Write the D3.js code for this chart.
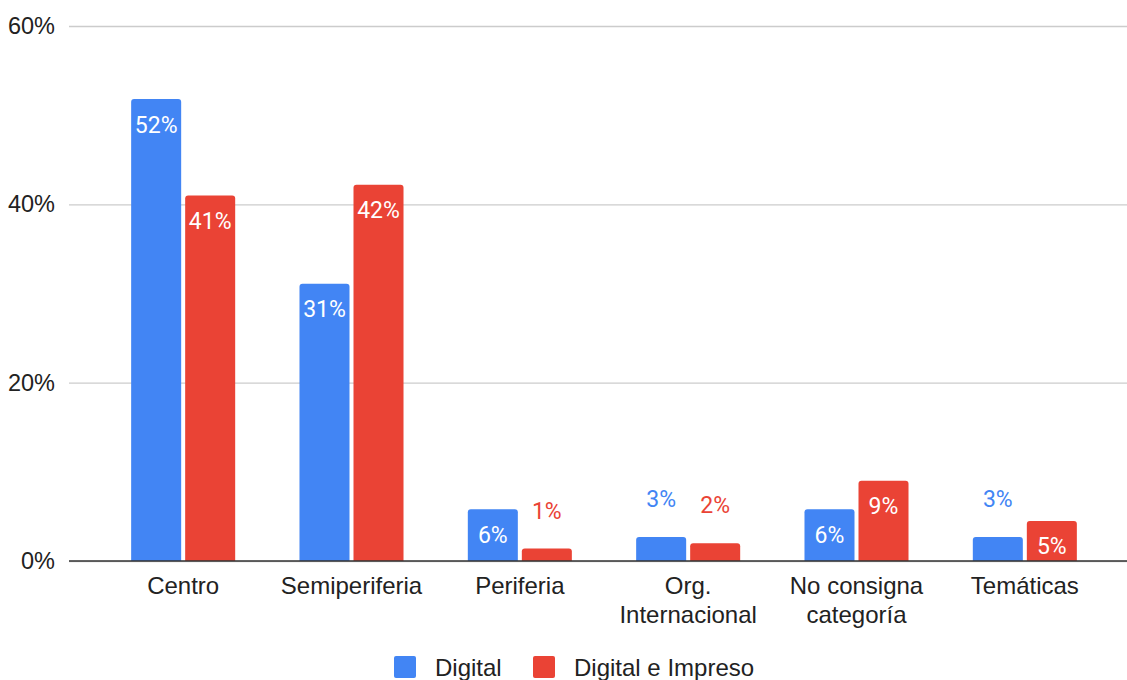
<!DOCTYPE html>
<html>
<head>
<meta charset="utf-8">
<script src="https://cdn.jsdelivr.net/npm/d3@7"></script>
<style>
  html, body { margin: 0; padding: 0; background: #fff; }
  svg { display: block; }
</style>
</head>
<body>
<svg id="chart" width="1127" height="680"></svg>
<script>
// Categories (multi-line labels split on \n)
const categories = ["Centro", "Semiperiferia", "Periferia", "Org.\nInternacional", "No consigna\ncategoría", "Temáticas"];
const seriesNames = ["Digital", "Digital e Impreso"];
const digital = [0.518, 0.311, 0.058, 0.027, 0.058, 0.027];
const digitalImpreso = [0.410, 0.422, 0.014, 0.020, 0.090, 0.045];
const yTicks = [0, 0.2, 0.4, 0.6];
const colors = ["#4285f4", "#ea4335"];

const svg = d3.select("#chart");
const W = 1127, H = 680;
const axisFont = "'Liberation Sans', Arial, sans-serif";
const labelFont = "Roboto, 'Liberation Sans', sans-serif";

const y = d3.scaleLinear().domain([0, 0.6]).range([561, 26]);
const x0 = d3.scaleBand().domain(categories).range([99, 1109]).paddingInner(0.382).paddingOuter(0.191);
const x1 = d3.scaleBand().domain(seriesNames).range([0, x0.bandwidth()]).paddingInner(0.074);

// Gridlines and y tick labels
const yAxis = d3.axisLeft(y).tickValues(yTicks).tickFormat(d3.format(".0%")).tickSize(0).tickPadding(14);
const gy = svg.append("g").attr("transform", "translate(69,0)").call(yAxis);
gy.select(".domain").remove();
gy.selectAll("text").attr("font-family", axisFont).attr("font-size", 23.5).attr("fill", "#222");
gy.selectAll(".tick").append("line")
  .attr("x1", 0).attr("x2", W - 69)
  .attr("stroke", "#cccccc").attr("stroke-width", 1.3);

// Bars with rounded tops
const rows = categories.map((c, i) => ({ cat: c, vals: [digital[i], digitalImpreso[i]] }));
function barPath(xp, w, top, bottom, r) {
  r = Math.min(r, (bottom - top) / 2, w / 2);
  return `M${xp},${bottom}V${top + r}Q${xp},${top} ${xp + r},${top}H${xp + w - r}Q${xp + w},${top} ${xp + w},${top + r}V${bottom}Z`;
}
const groups = svg.append("g").selectAll("g").data(rows).join("g")
  .attr("transform", d => `translate(${x0(d.cat)},0)`);

groups.selectAll("path").data(d => d.vals.map((v, k) => ({ v, k })))
  .join("path")
  .attr("d", d => barPath(x1(seriesNames[d.k]), x1.bandwidth(), y(d.v), y(0), 3))
  .attr("fill", d => colors[d.k]);

// Value labels: inside tall bars, above short ones
const fmt = d3.format(".0%");
const fitsInside = v => (y(0) - y(v)) > 34;
groups.selectAll("text").data(d => d.vals.map((v, k) => ({ v, k })))
  .join("text")
  .attr("x", d => x1(seriesNames[d.k]) + x1.bandwidth() / 2)
  .attr("y", d => fitsInside(d.v) ? y(d.v) + 33.5 : y(d.v) - 30)
  .attr("text-anchor", "middle")
  .attr("font-family", labelFont)
  .attr("font-size", 23)
  .attr("fill", d => fitsInside(d.v) ? "#ffffff" : colors[d.k])
  .text(d => fmt(d.v));

// Baseline
svg.append("line").attr("x1", 69).attr("x2", W).attr("y1", y(0)).attr("y2", y(0))
  .attr("stroke", "#333").attr("stroke-width", 1.5);

// Category labels
const xl = svg.append("g");
categories.forEach(c => {
  const cx = x0(c) + x0.bandwidth() / 2;
  const t = xl.append("text")
    .attr("x", cx)
    .attr("y", 594)
    .attr("text-anchor", "middle")
    .attr("font-family", axisFont).attr("font-size", 24).attr("fill", "#222");
  c.split("\n").forEach((line, i) => {
    t.append("tspan").attr("x", cx).attr("dy", i ? 28.5 : 0).text(line);
  });
});

// Legend
const legendX = [394, 533];
const lg = svg.append("g");
seriesNames.forEach((s, i) => {
  lg.append("rect").attr("x", legendX[i]).attr("y", 656).attr("width", 22).attr("height", 22)
    .attr("rx", 2).attr("fill", colors[i]);
  lg.append("text").attr("x", legendX[i] + 41).attr("y", 675.5)
    .attr("font-family", axisFont).attr("font-size", 24).attr("fill", "#222").text(s);
});
</script>
</body>
</html>
